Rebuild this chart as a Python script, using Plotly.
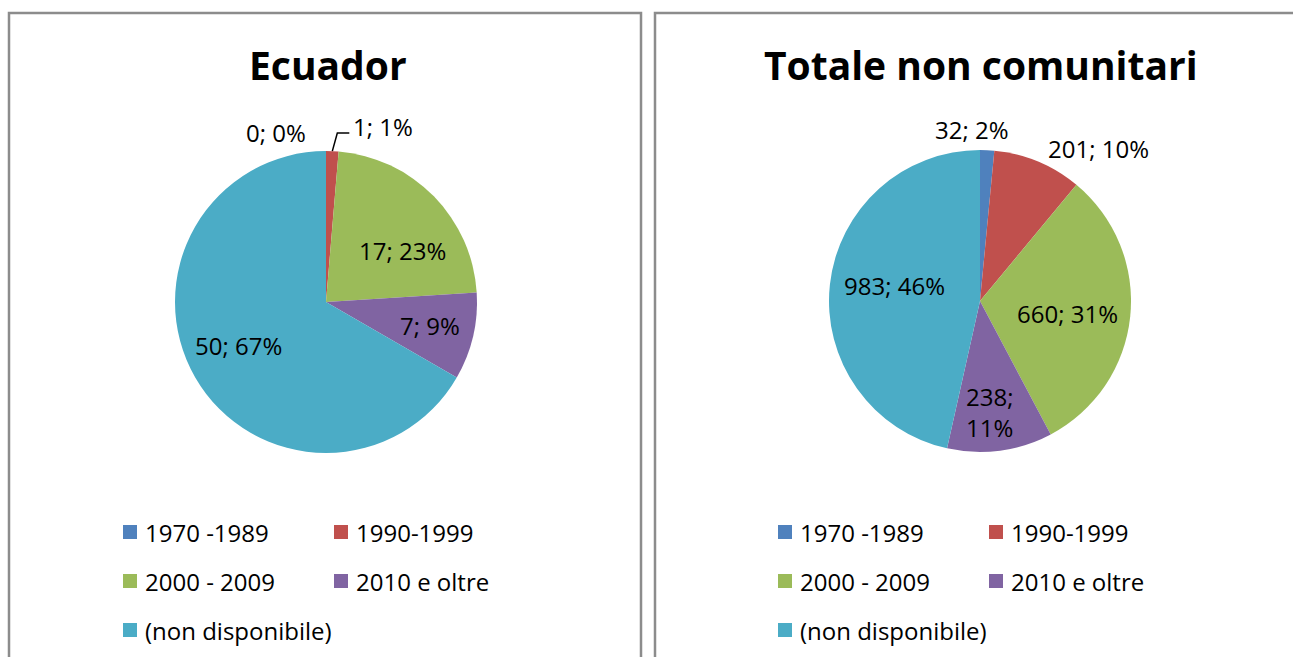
import math
import plotly.graph_objects as go

# Categories shared by both pies
periods = ["1970 -1989", "1990-1999", "2000 - 2009", "2010 e oltre", "(non disponibile)"]
colors = ["#4F81BD", "#C0504D", "#9BBB59", "#8064A2", "#4BACC6"]

# Arrival period counts
ecuador_values = [0, 1, 17, 7, 50]
totale_values = [32, 201, 660, 238, 983]

titles = ["Ecuador", "Totale non comunitari"]

W, H = 1293, 657
FONT = "Open Sans"
TEXT_SIZE = 24

# Layout of each panel (pixels)
panels = [
    dict(values=ecuador_values, title=titles[0], cx=326, cy=302, r=151, title_x=328, box=(9, 641),
         label_k=[1.12, 1.12, 0.62, 0.70, 0.65],
         label_nudge=[(-50, 0), (50, -7), (10, 14), (1, -1), (-2, -6)],
         wrap=[], leader=[1],
         legend_cols=(123, 334)),
    dict(values=totale_values, title=titles[1], cx=980, cy=301, r=151, title_x=981, box=(655, 1300),
         label_k=[1.14, 1.14, 0.60, 0.72, 0.60],
         label_nudge=[(-16, 0), (52, 6), (-3, 3), (-5, 3), (5, -6)],
         wrap=[3], leader=[],
         legend_cols=(778, 989)),
]
legend_rows = [532, 581, 630]


def px(x):
    return x / W


def py(y):
    return 1 - y / H


fig = go.Figure()
annotations = []
shapes = []

for p in panels:
    vals = p["values"]
    total = sum(vals)
    cx, cy, r = p["cx"], p["cy"], p["r"]

    fig.add_trace(go.Pie(
        labels=periods,
        values=vals,
        sort=False,
        direction="clockwise",
        rotation=0,
        marker=dict(colors=colors, line=dict(width=0)),
        textinfo="none",
        hoverinfo="label+value+percent",
        showlegend=False,
        domain=dict(x=[px(cx - r), px(cx + r)], y=[py(cy + r), py(cy - r)]),
    ))

    # Data labels "value; percent" placed around the slice mid-angles
    cum = 0
    for i, v in enumerate(vals):
        mid = (cum + v / 2) / total * 2 * math.pi
        cum += v
        pct = int(100 * v / total + 0.5)
        sep = ";<br>" if i in p["wrap"] else "; "
        text = f"{v}{sep}{pct}%"
        k = p["label_k"][i]
        dx, dy = p["label_nudge"][i]
        lx = cx + k * r * math.sin(mid) + dx
        ly = cy - k * r * math.cos(mid) + dy
        annotations.append(dict(
            x=px(lx), y=py(ly), xref="paper", yref="paper",
            text=text, showarrow=False, xanchor="center", yanchor="middle",
            font=dict(family=FONT, size=TEXT_SIZE, color="#000000"),
        ))
        if i in p["leader"]:
            # Leader line from the slice rim to the label
            x0 = cx + r * math.sin(mid)
            y0 = cy - r * math.cos(mid)
            y1 = cy - 1.12 * r * math.cos(mid)
            x1 = x0 + 5
            x2 = x1 + 12
            shapes.append(dict(
                type="path", xref="paper", yref="paper",
                path=f"M {px(x0)} {py(y0)} L {px(x1)} {py(y1)} L {px(x2)} {py(y1)}",
                line=dict(color="#000000", width=1.5),
            ))

    # Title
    annotations.append(dict(
        x=px(p["title_x"]), y=py(64), xref="paper", yref="paper",
        text=f"<b>{p['title']}</b>", showarrow=False, xanchor="center", yanchor="middle",
        font=dict(family=FONT, size=39, color="#000000"),
    ))

    # Panel border
    bx0, bx1 = p["box"]
    shapes.append(dict(
        type="rect", xref="paper", yref="paper",
        x0=px(bx0), x1=px(bx1), y0=py(H + 20), y1=py(13),
        line=dict(color="#8C8C8C", width=2.5), fillcolor="rgba(0,0,0,0)", layer="below",
    ))

    # Legend: two columns, three rows
    c1, c2 = p["legend_cols"]
    for i, name in enumerate(periods):
        row, col = divmod(i, 2)
        sx = (c1, c2)[col]
        sy = legend_rows[row]
        shapes.append(dict(
            type="rect", xref="paper", yref="paper",
            x0=px(sx), x1=px(sx + 14), y0=py(sy + 7), y1=py(sy - 7),
            fillcolor=colors[i], line=dict(width=0),
        ))
        annotations.append(dict(
            x=px(sx + 20), y=py(sy), xref="paper", yref="paper",
            text=name, showarrow=False, xanchor="left", yanchor="middle",
            font=dict(family=FONT, size=TEXT_SIZE, color="#000000"),
        ))

fig.update_layout(
    width=W, height=H,
    margin=dict(l=0, r=0, t=0, b=0),
    paper_bgcolor="#FFFFFF",
    plot_bgcolor="#FFFFFF",
    annotations=annotations,
    shapes=shapes,
    showlegend=False,
)

fig.write_html("out.html")
